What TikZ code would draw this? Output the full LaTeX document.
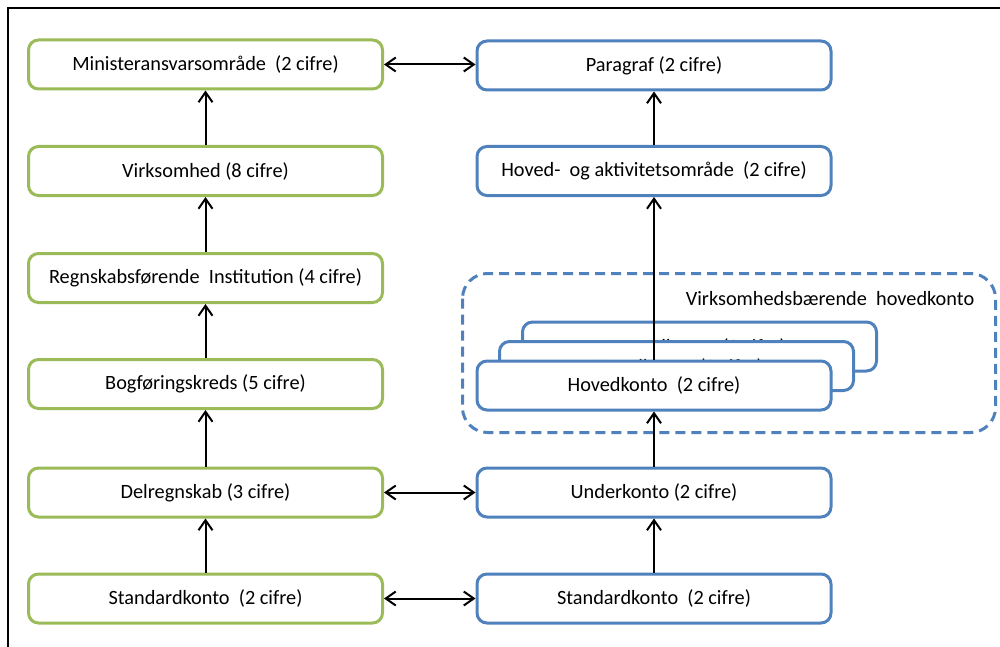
\documentclass[tikz,border=0pt]{standalone}
\usepackage{fontspec}
\setmainfont{Carlito}
\usetikzlibrary{arrows.meta}
\definecolor{gr}{HTML}{9BBB59}
\definecolor{bl}{HTML}{4F81BD}
\begin{document}
\begin{tikzpicture}[x=1pt,y=-1pt,
  txt/.style={font=\fontsize{20.3}{24}\selectfont, inner sep=0pt},
  gbox/.style={txt, draw=gr, line width=3pt, rounded corners=10pt, fill=white, minimum width=354pt, minimum height=49pt},
  bbox/.style={txt, draw=bl, line width=3pt, rounded corners=10pt, fill=white, minimum width=354pt, minimum height=49pt},
  conn/.style={line width=2pt, -{Straight Barb[length=10pt,width=14pt,line width=2pt]}},
  dconn/.style={line width=2pt, {Straight Barb[length=10pt,width=14pt,line width=2pt]}-{Straight Barb[length=10pt,width=14pt,line width=2pt]}},
  frame/.style={line width=2pt, black}
]
\useasboundingbox (0,0) rectangle (1000,647);
\coordinate (fa) at (7.5,647);
\coordinate (fb) at (7.5,8.5);
\coordinate (fc) at (1000,8.5);
\draw[frame] (fa) -- (fb) -- (fc);

% green column
\node[gbox] (g1) at (205.5,64.5) {Ministeransvarsområde\ \ (2 cifre)};
\node[gbox] (g2) at (205.5,171) {Virksomhed (8 cifre)};
\node[gbox] (g3) at (205.5,278) {Regnskabsførende\ \ Institution (4 cifre)};
\node[gbox] (g4) at (205.5,384) {Bogføringskreds (5 cifre)};
\node[gbox] (g5) at (205.5,492.5) {Delregnskab (3 cifre)};
\node[gbox] (g6) at (205.5,598.5) {Standardkonto\ \ (2 cifre)};

% dashed group
\draw[bl, line width=3pt, dash pattern=on 10pt off 6pt, rounded corners=25pt] (462.5,273.5) rectangle (995.5,432.5);
\node[txt] (lab) at (830,299) {Virksomhedsbærende\ \ hovedkonto};

% blue column
\node[bbox] (b1) at (654,65.5) {Paragraf (2 cifre)};
\node[bbox] (b2) at (654,171) {Hoved-\ \ og aktivitetsområde\ \ (2 cifre)};
\node[bbox] (h3) at (699.5,346.5) {};
\node[txt, anchor=base] (h3t) at (699.5,353.5) {Hovedkonto\ \ (2 cifre)};
\node[bbox] (h2) at (676.5,366) {};
\node[txt, anchor=base] (h2t) at (676.5,373.5) {Hovedkonto\ \ (2 cifre)};
\node[bbox] (b3) at (654,385.5) {Hovedkonto\ \ (2 cifre)};
\node[bbox] (b4) at (654,492.5) {Underkonto (2 cifre)};
\node[bbox] (b5) at (654,598.5) {Standardkonto\ \ (2 cifre)};

% vertical connectors
\draw[conn] (g2.north) -- (g1.south);
\draw[conn] (g3.north) -- (g2.south);
\draw[conn] (g4.north) -- (g3.south);
\draw[conn] (g5.north) -- (g4.south);
\draw[conn] (g6.north) -- (g5.south);
\draw[conn] (b2.north) -- (b1.south);
\draw[conn] (b3.north) -- (b2.south);
\draw[conn] (b4.north) -- (b3.south);
\draw[conn] (b5.north) -- (b4.south);

% horizontal connectors
\draw[dconn] (g1.east) -- (b1.west |- g1.east);
\draw[dconn] (g5.east) -- (b4.west);
\draw[dconn] (g6.east) -- (b5.west);
\end{tikzpicture}
\end{document}
